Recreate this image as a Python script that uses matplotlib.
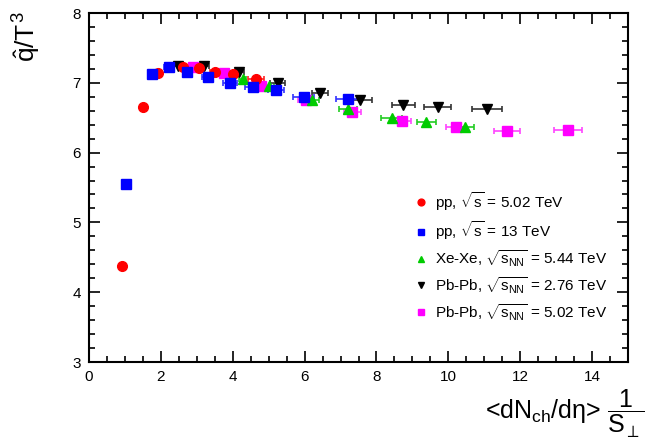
### q-hat / T^3 versus scaled multiplicity, several collision systems
import numpy as np
import matplotlib
matplotlib.use("Agg")
import matplotlib.pyplot as plt
from matplotlib.ticker import MultipleLocator
from matplotlib.lines import Line2D

plt.rcParams['font.family'] = ['Liberation Sans', 'DejaVu Sans']
plt.rcParams['mathtext.fontset'] = 'custom'
plt.rcParams['mathtext.rm'] = 'Liberation Sans'
plt.rcParams['mathtext.it'] = 'Liberation Sans'
plt.rcParams['mathtext.bf'] = 'Liberation Sans:bold'

### data
pp502_x = [0.92, 1.50, 1.92, 2.62, 3.06, 3.50, 4.00, 4.64]
pp502_y = [4.38, 6.66, 7.14, 7.23, 7.21, 7.16, 7.12, 7.06]
pp502_xerr = [0.03, 0.05, 0.07, 0.08, 0.10, 0.12, 0.15, 0.22]

pp13_x = [1.03, 1.75, 2.22, 2.72, 3.30, 3.92, 4.55, 5.20, 5.97, 7.22]
pp13_y = [5.55, 7.13, 7.23, 7.16, 7.08, 7.00, 6.94, 6.89, 6.80, 6.77]
pp13_xerr = [0.03, 0.06, 0.14, 0.10, 0.15, 0.20, 0.22, 0.22, 0.30, 0.36]

xexe_x = [4.28, 5.00, 6.20, 7.20, 8.42, 9.39, 10.47]
xexe_y = [7.06, 6.95, 6.75, 6.63, 6.50, 6.44, 6.37]
xexe_xerr = [0.10, 0.15, 0.20, 0.25, 0.28, 0.26, 0.25]

pbpb276_x = [2.47, 3.20, 4.17, 5.25, 6.42, 7.53, 8.75, 9.70, 11.08]
pbpb276_y = [7.24, 7.24, 7.15, 7.00, 6.86, 6.75, 6.68, 6.65, 6.63]
pbpb276_xerr = [0.10, 0.15, 0.15, 0.20, 0.22, 0.35, 0.33, 0.37, 0.42]

pbpb502_x = [2.90, 3.75, 4.80, 6.03, 7.33, 8.72, 10.22, 11.64, 13.33]
pbpb502_y = [7.22, 7.14, 6.95, 6.75, 6.58, 6.46, 6.36, 6.31, 6.32]
pbpb502_xerr = [0.10, 0.12, 0.20, 0.20, 0.24, 0.25, 0.28, 0.36, 0.38]

labels = [r'pp, $\sqrt{s}$ = 5.02 TeV',
          r'pp, $\sqrt{s}$ = 13 TeV',
          r'Xe-Xe, $\sqrt{s_{\rm NN}}$ = 5.44 TeV',
          r'Pb-Pb, $\sqrt{s_{\rm NN}}$ = 2.76 TeV',
          r'Pb-Pb, $\sqrt{s_{\rm NN}}$ = 5.02 TeV']

fig = plt.figure(figsize=(6.47, 4.41), dpi=100)
ax = fig.add_axes([0.1376, 0.1791, 0.833, 0.7914])

def draw(x, y, xerr, marker, color, ecolor, ms=7):
    ax.errorbar(x, y, xerr=xerr, fmt=marker, color=color, ecolor=ecolor,
                ms=ms, mec=color, elinewidth=1.2, capsize=2, capthick=1.2)
    # marker-only handle for the legend
    return Line2D([], [], ls='none', marker=marker, color=color, ms=ms * 0.7)

h_mag = draw(pbpb502_x, pbpb502_y, pbpb502_xerr, 's', '#ff00ff', '#ff44ff')
h_grn = draw(xexe_x, xexe_y, xexe_xerr, '^', '#00cc00', '#22cc22')
h_blk = draw(pbpb276_x, pbpb276_y, pbpb276_xerr, 'v', 'black', '#333333')
h_red = draw(pp502_x, pp502_y, pp502_xerr, 'o', '#ff0000', '#ff2222')
h_blu = draw(pp13_x, pp13_y, pp13_xerr, 's', '#0000ff', '#3333ff')

ax.set_xlim(0, 15)
ax.set_ylim(3, 8)
ax.xaxis.set_major_locator(MultipleLocator(2))
ax.xaxis.set_minor_locator(MultipleLocator(0.5))
ax.yaxis.set_major_locator(MultipleLocator(1))
ax.yaxis.set_minor_locator(MultipleLocator(0.2))
ax.tick_params(which='both', direction='in', top=True, right=True, labelsize=11)
ax.tick_params(which='major', length=8, width=1.2, pad=6)
ax.tick_params(which='minor', length=4, width=1.2)
for s in ax.spines.values():
    s.set_linewidth(1.5)

ax.legend([h_red, h_blu, h_grn, h_blk, h_mag], labels,
          loc='upper left', bbox_to_anchor=(0.59, 0.515), frameon=False,
          fontsize=11, handlelength=0.8, handletextpad=0.5,
          labelspacing=0.4, borderpad=0)

ax.text(1.03, -0.075, r'<dN$_{\rm ch}$/d$\eta$> $\dfrac{1}{S_{\perp}}$',
        transform=ax.transAxes, ha='right', va='top', fontsize=18)
fig.text(0.042, 0.975, r'$\hat{\rm q}/T^{3}$', rotation=90,
         ha='center', va='top', fontsize=19)

fig.savefig('out.png', dpi=100)
